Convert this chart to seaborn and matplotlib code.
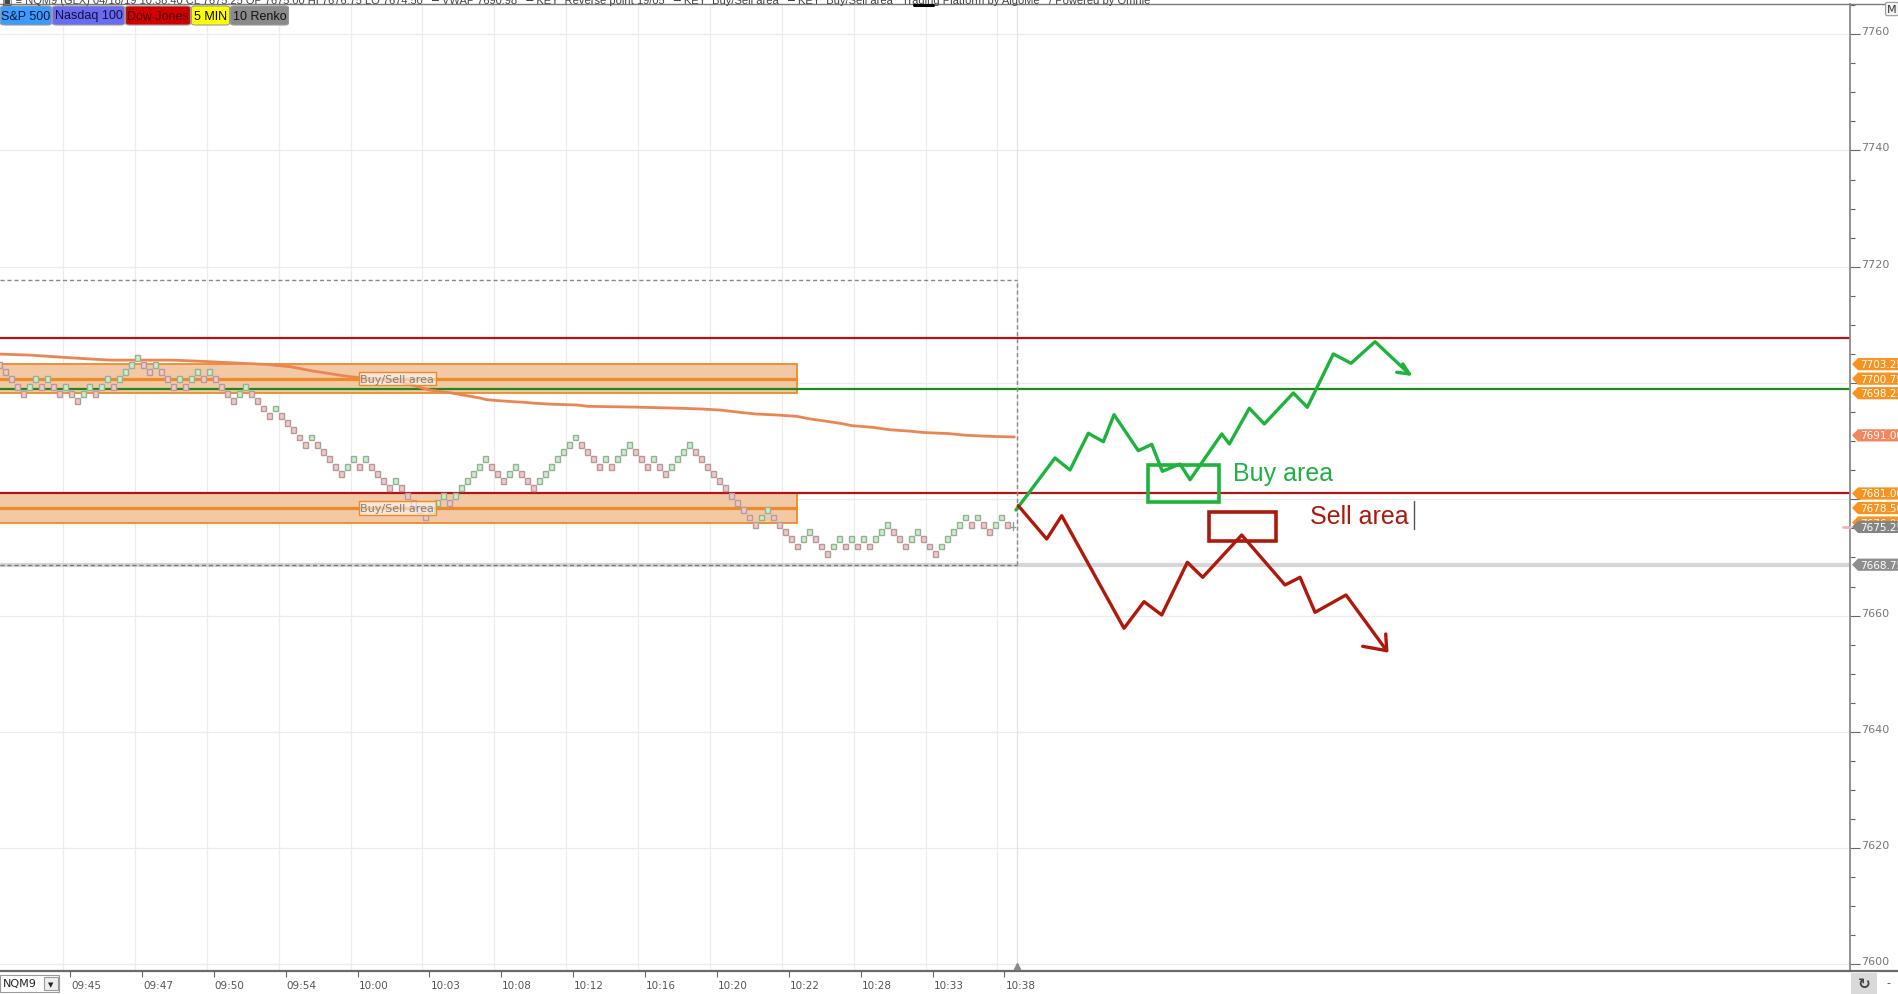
import numpy as np
import pandas as pd
import matplotlib
matplotlib.use("Agg")
import matplotlib.pyplot as plt
import matplotlib.transforms as mtransforms
from matplotlib.patches import Rectangle, Polygon, FancyBboxPatch
from matplotlib.lines import Line2D
import seaborn as sns

# ---------------- data ----------------
BRICK = 1.25
brick_mid = [
    7703.125, 7701.875, 7700.625, 7699.375, 7698.125, 7699.375, 7700.625, 7699.375, 7700.625, 7699.375,
    7698.125, 7699.375, 7698.125, 7696.875, 7698.125, 7699.375, 7698.125, 7699.375, 7700.625, 7699.375,
    7700.625, 7701.875, 7703.125, 7704.375, 7703.125, 7701.875, 7703.125, 7701.875, 7700.625, 7699.375,
    7700.625, 7699.375, 7700.625, 7701.875, 7700.625, 7701.875, 7700.625, 7699.375, 7698.125, 7696.875,
    7698.125, 7699.375, 7698.125, 7696.875, 7695.625, 7694.375, 7695.625, 7694.375, 7693.125, 7691.875,
    7690.625, 7689.375, 7690.625, 7689.375, 7688.125, 7686.875, 7685.625, 7684.375, 7685.625, 7686.875,
    7685.625, 7686.875, 7685.625, 7684.375, 7683.125, 7681.875, 7683.125, 7681.875, 7680.625, 7679.375,
    7678.125, 7676.875, 7678.125, 7679.375, 7680.625, 7679.375, 7680.625, 7681.875, 7683.125, 7684.375,
    7685.625, 7686.875, 7685.625, 7684.375, 7683.125, 7684.375, 7685.625, 7684.375, 7683.125, 7681.875,
    7683.125, 7684.375, 7685.625, 7686.875, 7688.125, 7689.375, 7690.625, 7689.375, 7688.125, 7686.875,
    7685.625, 7686.875, 7685.625, 7686.875, 7688.125, 7689.375, 7688.125, 7686.875, 7685.625, 7686.875,
    7685.625, 7684.375, 7685.625, 7686.875, 7688.125, 7689.375, 7688.125, 7686.875, 7685.625, 7684.375,
    7683.125, 7681.875, 7680.625, 7679.375, 7678.125, 7676.875, 7675.625, 7676.875, 7678.125, 7676.875,
    7675.625, 7674.375, 7673.125, 7671.875, 7673.125, 7674.375, 7673.125, 7671.875, 7670.625, 7671.875,
    7673.125, 7671.875, 7673.125, 7671.875, 7673.125, 7671.875, 7673.125, 7674.375, 7675.625, 7674.375,
    7673.125, 7671.875, 7673.125, 7674.375, 7673.125, 7671.875, 7670.625, 7671.875, 7673.125, 7674.375,
    7675.625, 7676.875, 7675.625, 7676.875, 7675.625, 7674.375, 7675.625, 7676.875, 7675.625,
]
last_price = 7675.25

vwap_x = [0.11, 5.11, 13.45, 18.45, 28.95, 35.11, 38.45, 44.56, 48.45, 52.33, 58.45, 66.78, 71.78,
          75.11, 80.11, 81.26, 84.13, 87.28, 89.30, 92.16, 96.18, 98.20, 105.36, 112.25, 117.13,
          120.28, 123.16, 126.03, 129.46, 132.91, 135.21, 138.08, 140.38, 142.10, 145.55, 148.41,
          151.85, 154.15, 158.16, 161.03, 165.06, 169.18]
vwap_y = [7704.98, 7704.80, 7704.24, 7703.94, 7703.94, 7703.67, 7703.50, 7703.20, 7702.81, 7702.05,
          7701.09, 7700.23, 7698.78, 7698.33, 7697.42, 7697.13, 7696.89, 7696.70, 7696.52, 7696.35,
          7696.23, 7695.99, 7695.87, 7695.70, 7695.53, 7695.34, 7694.99, 7694.68, 7694.51, 7694.27,
          7693.81, 7693.39, 7693.03, 7692.67, 7692.38, 7691.96, 7691.72, 7691.48, 7691.31, 7691.02,
          7690.83, 7690.72]

zone_lo = [7698.25, 7676.00]
zone_hi = [7703.25, 7681.00]
zone_mid = [7700.75, 7678.50]
zone_end = 132.9

red_levels = [7707.75, 7681.00]
green_level = 7698.9
box_top = 7717.75
box_bottom = 7668.75
current_bar = 169.56

buy_path_x = [169.44, 175.94, 178.44, 181.50, 184.00, 185.78, 189.83, 192.06, 193.83, 196.78, 198.45,
              203.73, 205.00, 208.33, 210.83, 215.67, 217.99, 222.33, 225.28, 229.28, 235.00]
buy_path_y = [7678.16, 7687.11, 7685.04, 7691.36, 7689.91, 7694.56, 7688.36, 7689.46, 7684.82, 7686.07,
              7683.37, 7691.24, 7689.52, 7695.66, 7692.96, 7698.29, 7695.83, 7705.00, 7703.40, 7707.11,
              7701.56]
buy_head_x = [232.9, 235.0, 233.9]
buy_head_y = [7701.85, 7701.56, 7703.30]

sell_path_x = [169.83, 174.56, 177.06, 187.44, 190.78, 193.73, 198.00, 200.56, 207.06, 214.28, 216.78,
               219.28, 224.44, 231.23]
sell_path_y = [7678.90, 7673.17, 7677.18, 7657.81, 7662.39, 7660.10, 7669.16, 7666.58, 7673.86, 7665.26,
               7666.58, 7660.56, 7663.54, 7653.96]
sell_head_x = [227.23, 231.23, 231.06]
sell_head_y = [7654.71, 7653.96, 7656.83]

buy_box = (191.5, 7679.49, 11.7, 6.41)
sell_box = (201.66, 7672.78, 11.12, 5.09)

time_labels = ["09:45", "09:47", "09:50", "09:54", "10:00", "10:03", "10:08",
               "10:12", "10:16", "10:20", "10:22", "10:28", "10:33", "10:38"]
tick_start, tick_step = 11.78, 11.98

y_ticks = [7600, 7620, 7640, 7660, 7680, 7700, 7720, 7740, 7760]
y_tick_text = ["7600", "7620", "7640", "7660", "", "", "7720", "7740", "7760"]

tag_values = [7703.25, 7700.75, 7698.25, 7691.00, 7676.00, 7681.00, 7678.50, 7675.25, 7668.75]
tag_text = ["7703.25", "7700.75", "7698.25", "7691.00", "7676.00", "7681.00", "7678.50", "7675.25", "7668.75"]
tag_colors = ["#F7931E", "#F7931E", "#F7931E", "#F5855C", "#F7931E", "#F7931E", "#F7931E", "#858585", "#8E8E8E"]

buttons = [("S&P 500", 0, 52, "#3D9BFF", "#0A1A3A"),
           ("Nasdaq 100", 52, 125, "#6B6BF2", "#101040"),
           ("Dow Jones", 125, 191, "#D00000", "#4A0000"),
           ("5 MIN", 191, 230, "#FFFF00", "#000000"),
           ("10 Renko", 230, 289, "#8A8A8A", "#111111")]

# ---------------- figure ----------------
sns.set_theme(style="white")
plt.rcParams['font.family'] = ['Liberation Sans Narrow', 'DejaVu Sans']

W, H = 1899, 995
fig = plt.figure(figsize=(W / 100, H / 100), dpi=100)
fig.patch.set_facecolor("white")

def fx(px):
    return px / W

def fy(py):
    return 1 - py / H

ax = fig.add_axes([0, fy(972), fx(1850), fy(5) - fy(972)])
ax.set_facecolor("white")
ax.set_xlim(0.11, 308.44)
ax.set_ylim(7598.86, 7765.2)

# grid
for v in y_ticks:
    ax.axhline(v, color="#ececec", lw=0.9, zorder=0)
tick_pos = [tick_start + tick_step * k for k in range(len(time_labels))]
for p in tick_pos:
    ax.axvline(p - 1.17, color="#ececec", lw=0.9, zorder=0)
ax.axvline(current_bar, color="#e2e2e2", lw=0.9, zorder=0)

# zones
for lo, hi, mid in zip(zone_lo, zone_hi, zone_mid):
    ax.add_patch(Rectangle((-2, lo), zone_end + 2, hi - lo, fc="#F2C9A4", ec="#EF8A2C",
                           lw=1.3, zorder=1))
    ax.plot([-2, zone_end], [mid, mid], color="#EE8A2A", lw=2.3, zorder=1.5, solid_capstyle="butt")

# horizontal levels
for lv in red_levels:
    ax.axhline(lv, color="#B01414", lw=1.6, zorder=2)
ax.axhline(green_level, color="#1E8A1E", lw=1.6, zorder=2)
ax.axhline(box_bottom, color="#d6d6d6", lw=3.0, zorder=2)

# dashed selection box
dash = (0, (3, 2))
ax.plot([0.11, current_bar], [box_top, box_top], color="#8a8a8a", lw=1.0, ls=dash, zorder=2.2)
ax.plot([current_bar, current_bar], [box_bottom, box_top], color="#8a8a8a", lw=1.0, ls=dash, zorder=2.2)
ax.plot([0.11, current_bar], [box_bottom, box_bottom], color="#7a7a7a", lw=1.0, ls=dash, zorder=2.3)

# vwap line
vw = pd.DataFrame({"bar": vwap_x, "price": vwap_y})
sns.lineplot(data=vw, x="bar", y="price", color="#EB8654", lw=2.0, ax=ax, sort=False,
             estimator=None, zorder=3)

# renko bricks
bricks = pd.DataFrame({"bar": np.arange(len(brick_mid)), "mid": brick_mid})
up = bricks["mid"].diff().fillna(-1) > 0
fills = np.where(up, "#C6F0C6", "#F4C6C6")
edges = np.where(up, "#9AAE9A", "#B59C9C")
ax.bar(bricks["bar"], BRICK * 0.8, bottom=bricks["mid"] - BRICK * 0.4, width=0.74,
       color=fills, edgecolor=edges, linewidth=1.0, zorder=4)
nb = len(brick_mid)
ax.plot([nb - 0.35, nb + 0.35], [last_price, last_price], color="#999999", lw=1.0, zorder=4)
ax.plot([nb, nb], [last_price - 0.6, last_price + 0.8], color="#999999", lw=1.0, zorder=4)

# zone labels
for mid in zone_mid:
    ax.text(66.3, mid, "Buy/Sell area", fontsize=8, color="#808080", ha="center", va="center",
            zorder=5, bbox=dict(boxstyle="square,pad=0.15", fc=(1, 1, 1, 0.55), ec="#EF8A2C", lw=1.0))

# hand-drawn scenario paths
sns.lineplot(x=buy_path_x, y=buy_path_y, color="#1DB33C", lw=2.4, ax=ax, sort=False,
             estimator=None, zorder=6)
ax.plot(buy_head_x, buy_head_y, color="#1DB33C", lw=2.4, zorder=6, solid_capstyle="round")
sns.lineplot(x=sell_path_x, y=sell_path_y, color="#B0180C", lw=2.4, ax=ax, sort=False,
             estimator=None, zorder=6)
ax.plot(sell_head_x, sell_head_y, color="#B0180C", lw=2.4, zorder=6, solid_capstyle="round")
ax.add_patch(Rectangle(buy_box[:2], buy_box[2], buy_box[3], fill=False, ec="#1DB33C", lw=2.6, zorder=6))
ax.add_patch(Rectangle(sell_box[:2], sell_box[2], sell_box[3], fill=False, ec="#AC1A0E", lw=2.6, zorder=6))
ax.text(205.6, 7683.37, "Buy area", fontsize=18, color="#1FB144", va="baseline", ha="left",
        family=["Liberation Sans", "DejaVu Sans"], zorder=6)
ax.text(218.4, 7675.87, "Sell area", fontsize=18, color="#AA1A0E", va="baseline", ha="left",
        family=["Liberation Sans", "DejaVu Sans"], zorder=6)
ax.plot([235.8, 235.8], [7674.9, 7679.76], color="#555555", lw=1.0, zorder=6)

# axes styling
for s in ["top", "left"]:
    ax.spines[s].set_visible(False)
ax.spines["right"].set_color("#8a8a8a")
ax.spines["right"].set_linewidth(1.3)
ax.spines["bottom"].set_color("#6a6a6a")
ax.spines["bottom"].set_linewidth(1.6)

ax.yaxis.tick_right()
ax.set_yticks(y_ticks, y_tick_text, va="baseline")
ax.set_yticks(np.arange(7600, 7766, 5), minor=True)
ax.tick_params(axis="y", which="major", direction="out", length=7.5, width=0.8, color="#666666",
               pad=0.5, labelsize=8, labelcolor="#777777", right=True, left=False)
ax.tick_params(axis="y", which="minor", direction="out", length=3.5, width=0.8, color="#666666",
               right=True, left=False)
ax.set_xticks(tick_pos, [])
ax.tick_params(axis="x", direction="out", length=4.5, width=0.8, color="#666666", bottom=True)
ax.set_xlabel("")
ax.set_ylabel("")
xl_tr = mtransforms.offset_copy(mtransforms.blended_transform_factory(ax.transData, ax.transAxes),
                                fig=fig, x=1, y=-9, units="dots")
for p, lab in zip(tick_pos, time_labels):
    ax.text(p, 0, lab, transform=xl_tr, ha="left", va="top", fontsize=7.5, color="#555555",
            clip_on=False)
ax.plot([current_bar], [7598.86 + 0.9], marker="^", ms=4, color="#8a8a8a", clip_on=False, zorder=7)

# price tags on the right
tag_tr = mtransforms.blended_transform_factory(ax.transAxes, ax.transData)
for i, (val, txt, col) in enumerate(zip(tag_values, tag_text, tag_colors)):
    hh = 1.05
    xs = [1852 / 1850, 1858 / 1850, 1.04, 1.04, 1858 / 1850]
    ys = [val, val + hh, val + hh, val - hh, val - hh]
    ax.add_patch(Polygon(np.column_stack([xs, ys]), closed=True, fc=col, ec="none",
                         transform=tag_tr, clip_on=False, zorder=8 + i * 0.1))
    ax.text(1860 / 1850, val, txt, transform=tag_tr, color="white", fontsize=7.5, va="center",
            ha="left", family="DejaVu Sans", clip_on=False, zorder=8.05 + i * 0.1)
ax.plot([1843 / 1850, 1850 / 1850], [last_price, last_price], transform=tag_tr, color="#F4B4B4",
        lw=2, clip_on=False, zorder=8)

# ---------------- chrome ----------------
fig.add_artist(Line2D([0, 1], [fy(4.5), fy(4.5)], color="#7a7a7a", lw=1.0))
fig.add_artist(Line2D([fx(1850), 1], [fy(972), fy(972)], color="#6a6a6a", lw=1.6))
fig.add_artist(Line2D([fx(914), fx(933)], [fy(5.5), fy(5.5)], color="#000000", lw=2.2))
fig.text(fx(2), fy(4), "\u25a3 \u2261 NQM9 (GLX) 04/18/19 10:38:40 CL 7675.25 OP 7675.00 HI 7676.75 LO 7674.50   "
         "\u2501 VWAP 7690.98   \u2501 KEY  Reverse point 19/05   \u2501 KEY  Buy/Sell area   "
         "\u2501 KEY  Buy/Sell area   Trading Platform by AlgoMe   / Powered by Omnie",
         fontsize=8, color="#444444", va="baseline", ha="left", family=["Liberation Sans", "DejaVu Sans"])

for label, x0, x1, bg, tc in buttons:
    fig.add_artist(FancyBboxPatch((fx(x0 + 0.5), fy(26)), fx(x1 - x0 - 1), fy(7) - fy(26),
                                  boxstyle="round,pad=0,rounding_size=0.002", fc=bg, ec="#9a9a9a", lw=0.8,
                                  transform=fig.transFigure))
    fig.text(fx((x0 + x1) / 2), fy(16.5), label, fontsize=9, color=tc, ha="center", va="center",
             family=["Liberation Sans", "DejaVu Sans"])

# top-right M button
fig.text(fx(1892), fy(10), "M", fontsize=8, color="#333333", ha="center", va="center",
         family="DejaVu Sans",
         bbox=dict(boxstyle="round,pad=0.15", fc="#f4f4f4", ec="#9a9a9a", lw=0.8))

# bottom-left symbol selector
fig.add_artist(Rectangle((fx(0.5), fy(993)), fx(59), fy(976) - fy(993), fc="white", ec="#9a9a9a",
                         lw=0.8, transform=fig.transFigure))
fig.add_artist(Rectangle((fx(44), fy(991)), fx(14), fy(978) - fy(991), fc="#eeeeee", ec="#9a9a9a",
                         lw=0.8, transform=fig.transFigure))
fig.text(fx(3), fy(984.5), "NQM9", fontsize=8, color="#222222", ha="left", va="center")
fig.text(fx(51), fy(985), "\u25bc", fontsize=5, color="#222222", ha="center", va="center",
         family="DejaVu Sans")

# bottom-right refresh button
fig.add_artist(Rectangle((fx(1851), fy(995)), fx(26), fy(974) - fy(995), fc="#d9d9d9", ec="none",
                         transform=fig.transFigure))
fig.text(fx(1864), fy(985), "\u21bb", fontsize=11, color="#444444", ha="center", va="center",
         family="DejaVu Sans", fontweight="bold")
fig.text(fx(1888), fy(983), "-", fontsize=8, color="#444444", ha="center", va="center",
         family="DejaVu Sans")

fig.savefig("out.png", dpi=100, facecolor="white")
